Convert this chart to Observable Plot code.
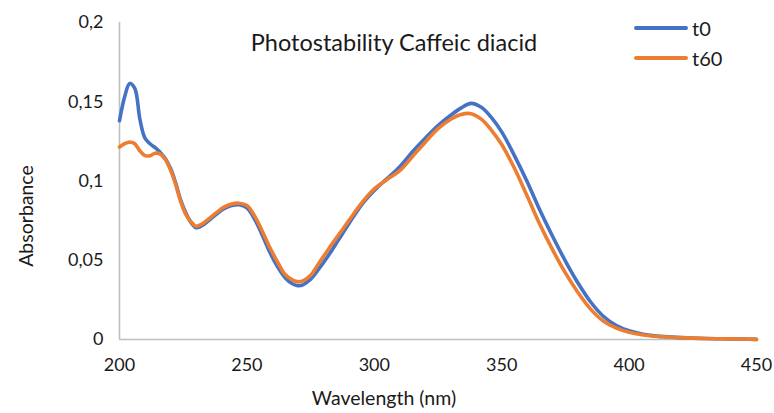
<!DOCTYPE html>
<html><head><meta charset="utf-8">
<script src="https://cdn.jsdelivr.net/npm/d3@7"></script>
<script src="https://cdn.jsdelivr.net/npm/@observablehq/plot@0.6"></script>
<style>
html,body{margin:0;padding:0;background:#fff;}
#wrap{position:relative;width:774px;height:413px;font-family:Lato,"Open Sans",sans-serif;color:#1a1a1a;}
#wrap svg{display:block;}
.title{position:absolute;left:394px;top:42px;transform:translate(-50%,-50%);font-size:23.5px;line-height:26px;white-space:nowrap;}
.ylab{position:absolute;left:26px;top:216px;transform:translate(-50%,-50%) rotate(-90deg);font-size:19.5px;line-height:22px;white-space:nowrap;}
.xlab{position:absolute;left:384px;top:398px;transform:translate(-50%,-50%);font-size:19.5px;line-height:22px;white-space:nowrap;}
.legend{position:absolute;left:634px;top:15px;font-size:20px;}
.legend .row{display:flex;align-items:center;height:26px;margin-bottom:4px;}
.legend .sw{width:54px;height:4px;border-radius:2px;margin-right:4px;}
</style></head><body>
<div id="wrap"></div>
<script>
const wavelengths = [200,202,204,206,208,210,212,214,216,218,220,222,224,226,228,230,232,235,238,241,244,247,250,253,256,259,262,265,268,270,272,275,278,282,286,290,295,300,305,310,315,320,325,330,334,338,342,346,350,355,360,365,370,375,380,385,390,395,400,405,410,420,430,440,450];
const t0 = [0.138,0.153,0.1615,0.1585,0.139,0.127,0.1235,0.121,0.118,0.114,0.108,0.099,0.088,0.080,0.074,0.0705,0.0715,0.075,0.079,0.0825,0.0845,0.085,0.083,0.076,0.066,0.055,0.046,0.039,0.035,0.034,0.0345,0.038,0.044,0.053,0.063,0.073,0.085,0.094,0.1015,0.109,0.1185,0.127,0.135,0.1415,0.146,0.149,0.1465,0.140,0.131,0.116,0.0995,0.0815,0.065,0.0495,0.0355,0.0235,0.0145,0.0088,0.0055,0.0035,0.0023,0.0012,0.0006,0.0004,0.0001];
const t60 = [0.1215,0.1235,0.1245,0.1235,0.119,0.116,0.116,0.1175,0.117,0.1135,0.107,0.098,0.087,0.079,0.0745,0.0715,0.0725,0.076,0.080,0.0835,0.0855,0.086,0.0845,0.078,0.0685,0.058,0.049,0.041,0.0375,0.0365,0.037,0.0405,0.0475,0.057,0.066,0.075,0.086,0.095,0.101,0.1065,0.1155,0.1245,0.133,0.139,0.142,0.1425,0.139,0.132,0.123,0.108,0.0905,0.0725,0.0565,0.042,0.0295,0.019,0.0115,0.0072,0.0046,0.0030,0.0021,0.0012,0.0006,0.0004,0.0001];
const seriesNames = ["t0","t60"];
const seriesColors = ["#4472C4","#ED7D31"];
const xTicks = [200,250,300,350,400,450];
const yTicks = [0,0.05,0.1,0.15,0.2];
const titleText = "Photostability Caffeic diacid";
const xLabel = "Wavelength (nm)";
const yLabel = "Absorbance";

const rows = [];
seriesNames.forEach((s, k) => {
  const vals = k === 0 ? t0 : t60;
  wavelengths.forEach((w, i) => rows.push({w, a: vals[i], s}));
});

const chart = Plot.plot({
  width: 774, height: 413,
  marginLeft: 119, marginRight: 18, marginTop: 22, marginBottom: 74,
  style: {fontFamily: "Lato, 'Open Sans', sans-serif", fontSize: "18px", color: "#1a1a1a", background: "#fff"},
  x: {domain: [200, 450]},
  y: {domain: [0, 0.2]},
  color: {domain: seriesNames, range: seriesColors},
  marks: [
    Plot.ruleX([200], {stroke: "#bfbfbf", strokeWidth: 1.6}),
    Plot.ruleY([0], {stroke: "#bfbfbf", strokeWidth: 1.6}),
    Plot.axisX({ticks: xTicks, tickSize: 0, tickPadding: 19, tickFormat: d => String(d), label: null, fontSize: 18}),
    Plot.axisY({ticks: yTicks, tickSize: 0, tickPadding: 16, tickFormat: d => String(d).replace(".", ","), label: null, fontSize: 18}),
    Plot.line(rows, {x: "w", y: "a", z: "s", stroke: "s", strokeWidth: 3.6, curve: "catmull-rom"})
  ]
});

const wrap = document.getElementById("wrap");
wrap.appendChild(chart);
const mk = (cls, txt) => { const d = document.createElement("div"); d.className = cls; d.textContent = txt; wrap.appendChild(d); return d; };
mk("title", titleText);
mk("ylab", yLabel);
mk("xlab", xLabel);
const lg = document.createElement("div"); lg.className = "legend";
seriesNames.forEach((s, i) => {
  const r = document.createElement("div"); r.className = "row";
  const sw = document.createElement("div"); sw.className = "sw"; sw.style.background = seriesColors[i];
  const t = document.createElement("span"); t.textContent = s;
  r.appendChild(sw); r.appendChild(t); lg.appendChild(r);
});
wrap.appendChild(lg);
</script>
</body></html>
